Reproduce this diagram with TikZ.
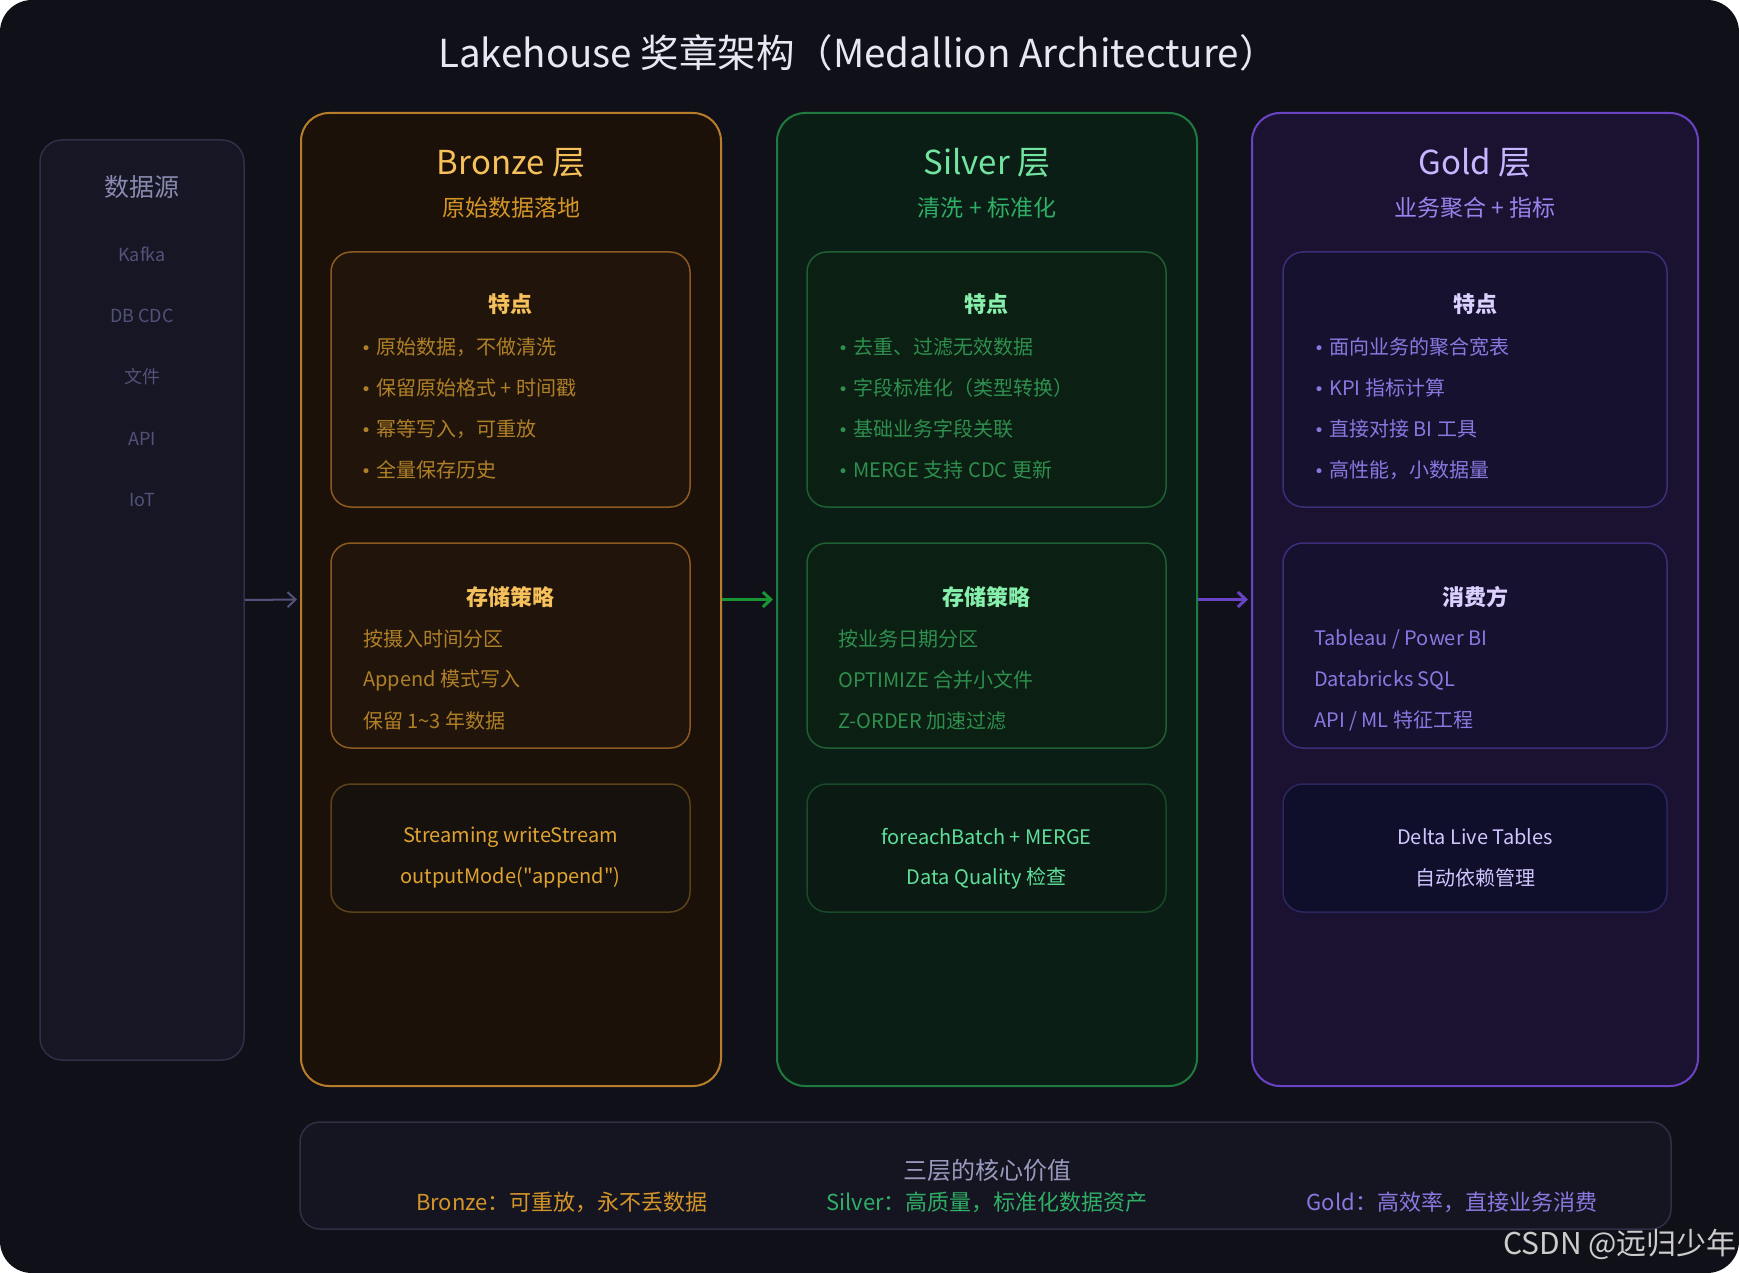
\documentclass[tikz,border=0pt]{standalone}
\usepackage{fontspec}
\setmainfont{Noto Sans CJK SC}
\newfontfamily\plainfont{Noto Sans CJK SC}
\newfontfamily\dotfont{DejaVu Sans}
\usetikzlibrary{arrows.meta}
% colours
\definecolor{bg}{HTML}{101118}
\definecolor{srcfill}{HTML}{161624}
\definecolor{srcline}{HTML}{2F2F48}
\definecolor{srchead}{HTML}{8A8AB0}
\definecolor{srcitem}{HTML}{52527A}
\definecolor{bzfill}{HTML}{1B1108}
\definecolor{bzline}{HTML}{B87D2B}
\definecolor{bzcard}{HTML}{21150B}
\definecolor{bzcardline}{HTML}{8C5A20}
\definecolor{bzcode}{HTML}{16110D}
\definecolor{bzcodeline}{HTML}{5C4218}
\definecolor{bztitle}{HTML}{F6C05A}
\definecolor{bzsub}{HTML}{D49528}
\definecolor{bztext}{HTML}{B08028}
\definecolor{bzcodetext}{HTML}{E0A332}
\definecolor{svfill}{HTML}{0B1E15}
\definecolor{svline}{HTML}{1F7A40}
\definecolor{svcard}{HTML}{0C1F13}
\definecolor{svcardline}{HTML}{1D5F33}
\definecolor{svcode}{HTML}{0B1A12}
\definecolor{svcodeline}{HTML}{184A2A}
\definecolor{svtitle}{HTML}{72E3A0}
\definecolor{svhead}{HTML}{86EFAC}
\definecolor{svsub}{HTML}{2FAE66}
\definecolor{svtext}{HTML}{2E8F4E}
\definecolor{svcodetext}{HTML}{5EE09A}
\definecolor{gdfill}{HTML}{1B1232}
\definecolor{gdline}{HTML}{6A42C4}
\definecolor{gdcard}{HTML}{15112F}
\definecolor{gdcardline}{HTML}{3C2E7A}
\definecolor{gdcode}{HTML}{0F0F2B}
\definecolor{gdcodeline}{HTML}{2C2660}
\definecolor{gdtitle}{HTML}{C6B6FF}
\definecolor{gdhead}{HTML}{DCD0FF}
\definecolor{gdsub}{HTML}{9B83EE}
\definecolor{gdtext}{HTML}{8A78E0}
\definecolor{gdcodetext}{HTML}{D0C6FF}
\definecolor{sumfill}{HTML}{151521}
\definecolor{sumline}{HTML}{2F2F45}
\definecolor{sumhead}{HTML}{9A9ABF}
\definecolor{titletext}{HTML}{E8E8F5}
\newcommand{\fs}[1]{\fontsize{#1}{#1}\selectfont}
\newcommand{\bul}{{\dotfont\fs{17}•}\hspace{5pt}}
\tikzset{
	layer/.style={draw, rounded corners=28pt, line width=2pt, inner sep=0pt},
	card/.style={draw, rounded corners=20pt, line width=1.5pt, inner sep=0pt},
	txt/.style={inner sep=0pt},
	item/.style={inner sep=0pt, anchor=west, font=\fs{20}},
	head/.style={inner sep=0pt, font=\fs{22}\bfseries},
}
\begin{document}
\begin{tikzpicture}[x=1pt, y=-1pt, >={Straight Barb[length=8pt,width=15pt]}]
	\fill[white] (0,0) rectangle (1739,1273);
	\fill[bg, rounded corners=32pt] (0,0) rectangle (1739,1273);
	\node[txt, text=titletext, font=\fs{38.5}] (title) at (858,53) {Lakehouse 奖章架构（Medallion Architecture）};
	%	sources
	\node[card, rounded corners=22pt, draw=srcline, fill=srcfill, minimum width=204pt, minimum height=920pt] (src) at (142,600) {};
	\node[txt, text=srchead, font=\fs{25}] (srchead) at (142,187) {数据源};
	\foreach \t [count=\i] in {Kafka, DB CDC, 文件, API, IoT}
		\node[txt, text=srcitem, font=\fs{18}] (src\i) at (142,{254+61.5*(\i-1)}) {\t};
	%	Bronze
	\node[layer, draw=bzline, fill=bzfill, minimum width=420pt, minimum height=973pt] (bronze) at (511,599.5) {};
	\node[txt, text=bztitle, font=\fs{33}] (bztitle) at (511,163) {Bronze 层};
	\node[txt, text=bzsub, font=\fs{23}] (bzsub) at (511,208) {原始数据落地};
	\node[card, draw=bzcardline, fill=bzcard, minimum width=359pt, minimum height=255pt] (bzfeat) at (510.5,379.5) {};
	\node[head, text=bztitle] (bzfeathead) at (510.5,304) {特点};
	\foreach \t [count=\i] in {原始数据，不做清洗, 保留原始格式 + 时间戳, 幂等写入，可重放, 全量保存历史}
		\node[item, text=bztext] (bzf\i) at (361,{347+41*(\i-1)}) {\bul\t};
	\node[card, draw=bzcardline, fill=bzcard, minimum width=359pt, minimum height=205pt] (bzstore) at (510.5,645.5) {};
	\node[head, text=bztitle] (bzstorehead) at (510.5,597) {存储策略};
	\foreach \t [count=\i] in {按摄入时间分区, Append 模式写入, 保留 1\textasciitilde3 年数据}
		\node[item, text=bztext] (bzs\i) at (363,{639+41*(\i-1)}) {\t};
	\node[card, draw=bzcodeline, fill=bzcode, minimum width=359pt, minimum height=128pt] (bzcode) at (510.5,848) {};
	\node[txt, text=bzcodetext, font=\fs{20}] (bzc1) at (510.5,837) {Streaming writeStream};
	\node[txt, text=bzcodetext, font=\fs{20}\plainfont] (bzc2) at (510.5,878) {outputMode("append")};
	%	Silver
	\node[layer, draw=svline, fill=svfill, minimum width=420pt, minimum height=973pt] (silver) at (987,599.5) {};
	\node[txt, text=svtitle, font=\fs{33}] (svtitle) at (987,163) {Silver 层};
	\node[txt, text=svsub, font=\fs{23}] (svsub) at (987,208) {清洗 + 标准化};
	\node[card, draw=svcardline, fill=svcard, minimum width=359pt, minimum height=255pt] (svfeat) at (986.5,379.5) {};
	\node[head, text=svhead] (svfeathead) at (986.5,304) {特点};
	\foreach \t [count=\i] in {去重、过滤无效数据, 字段标准化（类型转换）, 基础业务字段关联, MERGE 支持 CDC 更新}
		\node[item, text=svtext] (svf\i) at (838,{347+41*(\i-1)}) {\bul\t};
	\node[card, draw=svcardline, fill=svcard, minimum width=359pt, minimum height=205pt] (svstore) at (986.5,645.5) {};
	\node[head, text=svhead] (svstorehead) at (986.5,597) {存储策略};
	\foreach \t [count=\i] in {按业务日期分区, OPTIMIZE 合并小文件, Z-ORDER 加速过滤}
		\node[item, text=svtext] (svs\i) at (838,{639+41*(\i-1)}) {\t};
	\node[card, draw=svcodeline, fill=svcode, minimum width=359pt, minimum height=128pt] (svcode) at (986.5,848) {};
	\node[txt, text=svcodetext, font=\fs{20}] (svc1) at (986.5,837) {foreachBatch + MERGE};
	\node[txt, text=svcodetext, font=\fs{20}] (svc2) at (986.5,878) {Data Quality 检查};
	%	Gold
	\node[layer, draw=gdline, fill=gdfill, minimum width=446pt, minimum height=973pt] (gold) at (1475,599.5) {};
	\node[txt, text=gdtitle, font=\fs{33}] (gdtitle) at (1475,163) {Gold 层};
	\node[txt, text=gdsub, font=\fs{23}] (gdsub) at (1475,208) {业务聚合 + 指标};
	\node[card, draw=gdcardline, fill=gdcard, minimum width=384pt, minimum height=255pt] (gdfeat) at (1475,379.5) {};
	\node[head, text=gdhead] (gdfeathead) at (1475,304) {特点};
	\foreach \t [count=\i] in {面向业务的聚合宽表, KPI 指标计算, 直接对接 BI 工具, 高性能，小数据量}
		\node[item, text=gdtext] (gdf\i) at (1314,{347+41*(\i-1)}) {\bul\t};
	\node[card, draw=gdcardline, fill=gdcard, minimum width=384pt, minimum height=205pt] (gdstore) at (1475,645.5) {};
	\node[head, text=gdhead] (gdstorehead) at (1475,597) {消费方};
	\foreach \t [count=\i] in {Tableau / Power BI, Databricks SQL, API / ML 特征工程}
		\node[item, text=gdtext] (gds\i) at (1314,{639+41*(\i-1)}) {\t};
	\node[card, draw=gdcodeline, fill=gdcode, minimum width=384pt, minimum height=128pt] (gdcode) at (1475,848) {};
	\node[txt, text=gdcodetext, font=\fs{20}] (gdc1) at (1475,837) {Delta Live Tables};
	\node[txt, text=gdcodetext, font=\fs{20}] (gdc2) at (1475,878) {自动依赖管理};
	%	arrows
	\draw[->, srcitem, line width=2pt, shorten >=3pt] (src.east) -- (bronze.west);
	\draw[->, svline!80!green, line width=3pt, shorten >=3pt] (bronze.east) -- (silver.west);
	\draw[->, gdline, line width=3pt, shorten >=3pt] (silver.east) -- (gold.west);
	%	summary
	\node[card, draw=sumline, fill=sumfill, minimum width=1371pt, minimum height=107pt] (sum) at (985.5,1175.5) {};
	\node[txt, text=sumhead, font=\fs{24}] (sumhead) at (987,1170) {三层的核心价值};
	\node[txt, text=bzsub, font=\fs{22}] (sumbz) at (562,1202) {Bronze：可重放，永不丢数据};
	\node[txt, text=svsub, font=\fs{22}] (sumsv) at (987,1202) {Silver：高质量，标准化数据资产};
	\node[txt, text=gdtext, font=\fs{22}] (sumgd) at (1452,1202) {Gold：高效率，直接业务消费};
	\node[txt, anchor=east, text=black!20, font=\fs{30}] (mark) at (1737,1244) {CSDN @远归少年};
\end{tikzpicture}
\end{document}
